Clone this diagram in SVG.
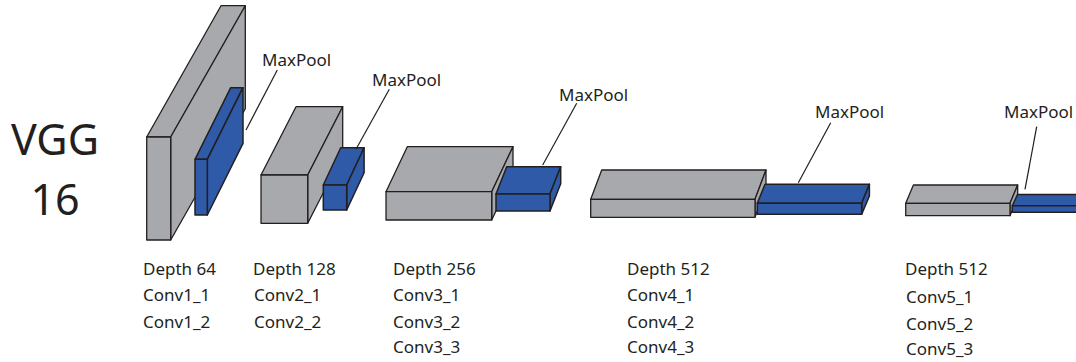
<svg xmlns="http://www.w3.org/2000/svg" width="1076" height="362" viewBox="0 0 1076 362">
<style>
.g{fill:#a7a9ac;stroke:#231f20;stroke-width:1.3;stroke-linejoin:round}
.b{fill:#2f5aa8;stroke:#231f20;stroke-width:1.5;stroke-linejoin:round}
.t{font-family:"Noto Sans","Open Sans","Liberation Sans",sans-serif;font-size:17px;fill:#231f20}
.big{font-family:"Noto Sans","Open Sans","Liberation Sans",sans-serif;font-size:43px;fill:#231f20;text-anchor:middle}
.ln{stroke:#231f20;stroke-width:1.2;fill:none}
</style>
<rect width="1076" height="362" fill="#ffffff"/>
<g id="title">
<text class="big" x="55" y="155">VGG</text>
<text class="big" x="55" y="215">16</text>
</g>
<g id="conv1">
<polygon class="g" points="146.7,137 221,5.7 245.3,5.7 170.7,137"/>
<polygon class="g" points="170.7,137 245.3,5.7 245.3,108.7 170.7,240"/>
<rect class="g" x="146.7" y="137" width="24" height="103"/>
<text class="t" x="143" y="275">Depth 64</text>
<text class="t" x="143" y="301">Conv1_1</text>
<text class="t" x="143" y="328">Conv1_2</text>
</g>
<g id="pool1">
<polygon class="b" points="195,159.3 230.7,87.7 243,87.7 207.3,159.3"/>
<polygon class="b" points="207.3,159.3 243,87.7 243,143.4 207.3,215"/>
<rect class="b" x="195" y="159.3" width="12.3" height="55.7"/>
<text class="t" x="262" y="66">MaxPool</text>
</g>
<g id="conv2">
<polygon class="g" points="261,175 296,106.7 342.7,106.7 307.7,175"/>
<polygon class="g" points="307.7,175 342.7,106.7 342.7,155 307.7,223.3"/>
<rect class="g" x="261" y="175" width="46.7" height="48.3"/>
<text class="t" x="253" y="275">Depth 128</text>
<text class="t" x="254" y="301">Conv2_1</text>
<text class="t" x="254" y="328">Conv2_2</text>
</g>
<g id="pool2">
<polygon class="b" points="323.3,185 340.7,147.7 364.1,147.7 346.7,185"/>
<polygon class="b" points="346.7,185 364.1,147.7 364.1,172.7 346.7,210"/>
<rect class="b" x="323.3" y="185" width="23.4" height="25"/>
<text class="t" x="372" y="86">MaxPool</text>
</g>
<g id="conv3">
<polygon class="g" points="386,191.7 407.3,146.7 513,146.7 491.7,191.7"/>
<polygon class="g" points="491.7,191.7 513,146.7 513,175 491.7,220"/>
<rect class="g" x="386" y="191.7" width="105.7" height="28.3"/>
<text class="t" x="393" y="275">Depth 256</text>
<text class="t" x="393" y="301">Conv3_1</text>
<text class="t" x="393" y="328">Conv3_2</text>
<text class="t" x="393" y="353">Conv3_3</text>
</g>
<g id="pool3">
<polygon class="b" points="496,194 506.7,166.7 560.7,166.7 550,194"/>
<polygon class="b" points="550,194 560.7,166.7 560.7,183.7 550,211"/>
<rect class="b" x="496" y="194" width="54" height="17"/>
<text class="t" x="559" y="101">MaxPool</text>
</g>
<g id="conv4">
<polygon class="g" points="590.7,199.3 601.7,170 766,170 755,199.3"/>
<polygon class="g" points="755,199.3 766,170 766,188 755,217.3"/>
<rect class="g" x="590.7" y="199.3" width="164.3" height="18"/>
<text class="t" x="627" y="275">Depth 512</text>
<text class="t" x="627" y="301">Conv4_1</text>
<text class="t" x="627" y="328">Conv4_2</text>
<text class="t" x="627" y="353">Conv4_3</text>
</g>
<g id="pool4">
<polygon class="b" points="757.3,203.3 765,184.3 869.4,184.3 861.7,203.3"/>
<polygon class="b" points="861.7,203.3 869.4,184.3 869.4,196 861.7,214.3"/>
<rect class="b" x="757.3" y="203.3" width="104.4" height="11"/>
<text class="t" x="815" y="118">MaxPool</text>
</g>
<g id="conv5">
<polygon class="g" points="905.7,203.3 913.4,185 1017.7,185 1010,203.3"/>
<polygon class="g" points="1010,203.3 1017.7,185 1017.7,197.4 1010,215.7"/>
<rect class="g" x="905.7" y="203.3" width="104.3" height="12.4"/>
<text class="t" x="905" y="275">Depth 512</text>
<text class="t" x="906" y="303">Conv5_1</text>
<text class="t" x="906" y="330">Conv5_2</text>
<text class="t" x="906" y="355">Conv5_3</text>
</g>
<g id="pool5">
<polygon class="b" points="1012.3,205.7 1017.6,194.4 1085,194.4 1085,205.7"/>
<rect class="b" x="1012.3" y="205.7" width="72" height="6.6"/>
<text class="t" x="1004" y="118">MaxPool</text>
</g>
<g id="connectors">
<line class="ln" x1="277.3" y1="70" x2="246" y2="130"/>
<line class="ln" x1="389.3" y1="89.3" x2="356" y2="149.3"/>
<line class="ln" x1="576.7" y1="103.3" x2="542.7" y2="165"/>
<line class="ln" x1="830.7" y1="122.7" x2="798.3" y2="182.7"/>
<line class="ln" x1="1036.7" y1="126.7" x2="1025" y2="189.3"/>
</g>
</svg>
